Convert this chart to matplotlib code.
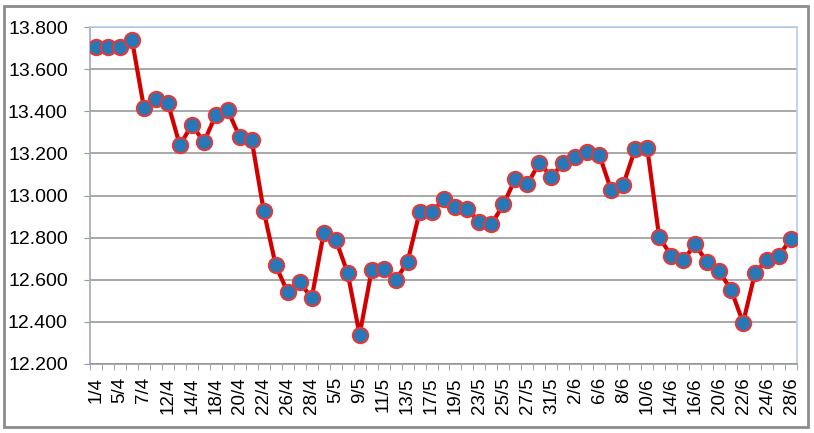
import matplotlib.pyplot as plt
from matplotlib.ticker import FuncFormatter, MultipleLocator
from matplotlib.patches import Rectangle

dates = ["1/4", "4/4", "5/4", "6/4", "7/4", "8/4", "12/4", "13/4", "14/4", "15/4",
         "18/4", "19/4", "20/4", "21/4", "22/4", "25/4", "26/4", "27/4", "28/4", "29/4",
         "5/5", "6/5", "9/5", "10/5", "11/5", "12/5", "13/5", "16/5", "17/5", "18/5",
         "19/5", "20/5", "23/5", "24/5", "25/5", "26/5", "27/5", "30/5", "31/5", "1/6",
         "2/6", "3/6", "6/6", "7/6", "8/6", "9/6", "10/6", "13/6", "14/6", "15/6",
         "16/6", "17/6", "20/6", "21/6", "22/6", "23/6", "24/6", "27/6", "28/6"]

prices = [13705, 13705, 13705, 13740, 13417, 13460, 13439, 13238, 13336, 13254,
          13381, 13404, 13277, 13262, 12926, 12668, 12540, 12589, 12513, 12821,
          12791, 12633, 12339, 12644, 12649, 12597, 12685, 12920, 12920, 12982,
          12945, 12934, 12874, 12863, 12958, 13080, 13053, 13156, 13088, 13156,
          13182, 13206, 13194, 13024, 13051, 13222, 13227, 12802, 12715, 12692,
          12768, 12682, 12640, 12553, 12396, 12633, 12696, 12715, 12795]

plt.rcParams['font.family'] = ['Liberation Sans', 'DejaVu Sans']

fig = plt.figure(figsize=(8.14, 4.33), dpi=100)
fig.patches.append(Rectangle((4 / 814, 6 / 433), 804 / 814, 421 / 433,
                             transform=fig.transFigure, fill=False,
                             edgecolor='#8c8c8c', linewidth=2))
ax = fig.add_axes([90 / 814, 1 - 364 / 433, 707 / 814, 337 / 433])

x = list(range(len(prices)))
ax.plot(x, prices, color='#d40000', linewidth=3, marker='o', markersize=11,
        markerfacecolor='#2878b8', markeredgecolor='#e03a3a', markeredgewidth=1.5,
        zorder=3)

ax.set_xlim(-0.5, len(prices) - 0.5)
ax.set_ylim(12200, 13800)
ax.yaxis.set_major_locator(MultipleLocator(200))
ax.yaxis.set_major_formatter(FuncFormatter(lambda v, p: f"{v:,.0f}".replace(",", ".")))
ax.grid(axis='y', color='#999999', linewidth=1.2)
ax.set_axisbelow(True)

ax.set_xticks(x[::2])
ax.set_xticklabels(dates[::2], rotation=90, fontsize=13.5)
ax.set_xticks([i - 0.5 for i in range(len(prices) + 1)], minor=True)
ax.tick_params(axis='x', which='major', length=0, pad=9.5)
ax.tick_params(axis='x', which='minor', length=4, color='#999999', direction='out')
ax.tick_params(axis='y', length=4, color='#999999', pad=12, labelsize=14)

ax.spines['left'].set_color('#a0a8c0')
ax.spines['bottom'].set_color('#999999')
ax.spines['top'].set_color('#b8ccf0')
ax.spines['right'].set_color('#b8ccf0')
for s in ax.spines.values():
    s.set_linewidth(1.2)

fig.savefig('out.png', dpi=100)
